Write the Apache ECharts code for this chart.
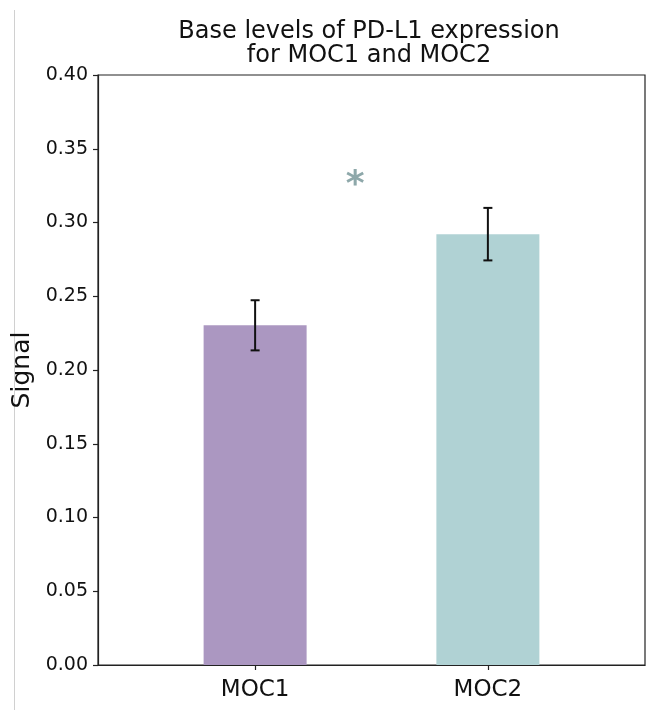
<!DOCTYPE html>
<html>
<head>
<meta charset="utf-8">
<script src="https://cdn.jsdelivr.net/npm/echarts@6/dist/echarts.min.js"></script>
<style>html,body{margin:0;padding:0;background:#fff;}#c{width:655px;height:710px;}</style>
</head>
<body>
<div id="c"></div>
<script>
const categories = ['MOC1', 'MOC2'];
const means = [0.2303, 0.2921];
const errors = [0.0170, 0.0178];
const barColors = ['#ab97c1', '#b0d2d4'];
const yTicks = [0, 0.05, 0.10, 0.15, 0.20, 0.25, 0.30, 0.35, 0.40];
const sigMark = { x: 0.43, y: 0.325, text: '*' };

const FONT = 'DejaVu Sans';
const chart = echarts.init(document.getElementById('c'), null, { renderer: 'canvas' });

const barData = categories.map((c, i) => ({ value: [i, means[i]], itemStyle: { color: barColors[i] } }));
const errData = categories.map((c, i) => [i, means[i] - errors[i], means[i] + errors[i]]);

chart.setOption({
  animation: false,
  backgroundColor: '#fff',
  title: {
    text: 'Base levels of PD-L1 expression\nfor MOC1 and MOC2',
    left: 364, top: 15, textAlign: 'center',
    textStyle: { fontFamily: FONT, fontSize: 24, fontWeight: 'normal', color: '#111', lineHeight: 24 }
  },
  grid: { left: 98, right: 10, top: 75, bottom: 45, show: true, borderColor: '#222', borderWidth: 1.2, containLabel: false },
  xAxis: {
    type: 'value', min: -0.675, max: 1.675,
    axisLine: { show: true, onZero: false, lineStyle: { color: '#222', width: 1.2 } },
    axisTick: { show: true, customValues: [0, 1], length: 5, inside: false, lineStyle: { color: '#222', width: 1.2 } },
    axisLabel: { customValues: [0, 1], formatter: v => categories[Math.round(v)], fontFamily: FONT, fontSize: 23, color: '#111', margin: 14 },
    splitLine: { show: false }
  },
  yAxis: {
    type: 'value', min: 0, max: 0.4, interval: 0.05,
    name: 'Signal', nameLocation: 'middle', nameGap: 52, nameRotate: 90,
    nameTextStyle: { fontFamily: FONT, fontSize: 25, color: '#111' },
    axisLine: { show: true, onZero: false, lineStyle: { color: '#222', width: 1.2 } },
    axisTick: { show: true, length: 5, lineStyle: { color: '#222', width: 1.2 } },
    axisLabel: { formatter: v => v.toFixed(2), fontFamily: FONT, fontSize: 19, color: '#111', margin: 10 },
    splitLine: { show: false }
  },
  graphic: [
    { type: 'line', shape: { x1: 14.5, y1: 10, x2: 14.5, y2: 710 }, style: { stroke: '#d0d0d0', lineWidth: 1 } }
  ],
  series: [
    {
      type: 'bar', data: barData, barWidth: 103
    },
    {
      type: 'custom',
      data: errData,
      renderItem: (params, api) => {
        const x = api.value(0);
        const lo = api.coord([x, api.value(1)]);
        const hi = api.coord([x, api.value(2)]);
        const cap = 4.5;
        const st = { stroke: '#111', lineWidth: 2 };
        return {
          type: 'group', children: [
            { type: 'line', shape: { x1: lo[0], y1: lo[1], x2: hi[0], y2: hi[1] }, style: st },
            { type: 'line', shape: { x1: lo[0] - cap, y1: lo[1], x2: lo[0] + cap, y2: lo[1] }, style: st },
            { type: 'line', shape: { x1: hi[0] - cap, y1: hi[1], x2: hi[0] + cap, y2: hi[1] }, style: st }
          ]
        };
      },
      z: 5
    },
    {
      type: 'custom',
      data: [[sigMark.x, sigMark.y]],
      renderItem: (params, api) => {
        const p = api.coord([api.value(0), api.value(1)]);
        return {
          type: 'text', x: p[0], y: p[1],
          style: { text: sigMark.text, fontFamily: FONT, fontSize: 36, fontWeight: 'bold', fill: '#8ea8aa', align: 'center', verticalAlign: 'middle' }
        };
      },
      z: 6
    }
  ]
});
</script>
</body>
</html>
